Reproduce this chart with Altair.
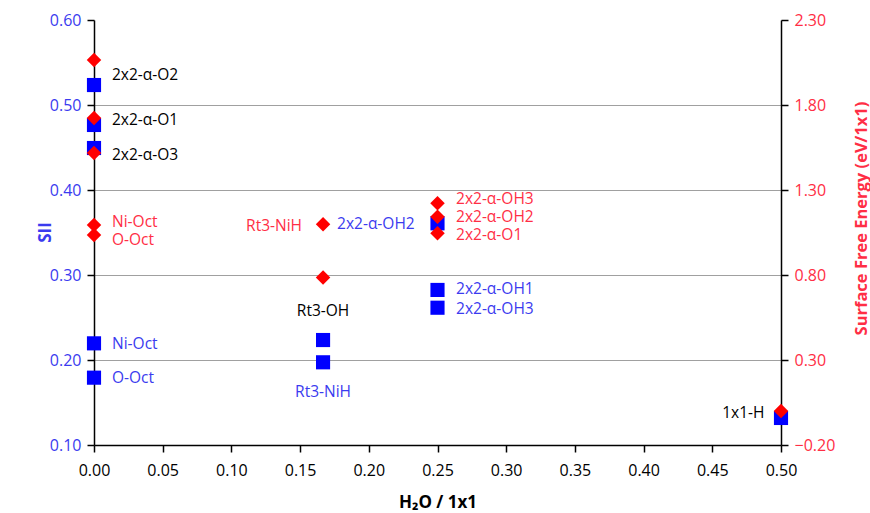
import altair as alt
import pandas as pd

# ---- data ----
x_sii = [0.0, 0.0, 0.0, 0.0, 0.0, 0.1667, 0.1667, 0.25, 0.25, 0.25, 0.5]
sii = [0.5235, 0.4765, 0.4494, 0.2196, 0.1792, 0.2235, 0.1973, 0.3608, 0.2824, 0.2615, 0.1318]

x_sfe = [0.0, 0.0, 0.0, 0.0, 0.0, 0.1667, 0.1667, 0.25, 0.25, 0.25, 0.5]
sfe = [2.065, 1.724, 1.518, 1.094, 1.035, 1.098, 0.786, 1.222, 1.143, 1.045, 0.0]

x_ticks = [0.0, 0.05, 0.1, 0.15, 0.2, 0.25, 0.3, 0.35, 0.4, 0.45, 0.5]
sii_ticks = [0.1, 0.2, 0.3, 0.4, 0.5, 0.6]
sfe_ticks = [-0.2, 0.3, 0.8, 1.3, 1.8, 2.3]

# annotation labels (anchor in data units)
blk_text = ["2x2-α-O2", "2x2-α-O1", "2x2-α-O3", "Rt3-OH", "1x1-H"]
blk_x = [0.0131, 0.0131, 0.0131, 0.1667, 0.488]
blk_v = [0.535, 0.4823, 0.4412, 0.2576, 0.1376]
blk_align = ["left", "left", "left", "center", "right"]

blu_text = ["2x2-α-OH2", "Ni-Oct", "O-Oct", "Rt3-NiH", "2x2-α-OH1", "2x2-α-OH3"]
blu_x = [0.1769, 0.0131, 0.0131, 0.1667, 0.2635, 0.2635]
blu_v = [0.3600, 0.2188, 0.1788, 0.1624, 0.2830, 0.2605]
blu_align = ["left", "left", "left", "center", "left", "left"]

red_text = ["Ni-Oct", "O-Oct", "Rt3-NiH", "2x2-α-OH3", "2x2-α-OH2", "2x2-α-O1"]
red_x = [0.0131, 0.0131, 0.1514, 0.2635, 0.2635, 0.2635]
red_v = [1.112, 1.006, 1.088, 1.245, 1.143, 1.038]
red_align = ["left", "left", "right", "left", "left", "left"]

BLUE = "#0000ff"
BLUE_TXT = "#3b3bef"
RED = "#ff0000"
RED_TXT = "#ff2e45"
FONT = "Open Sans"
LBL = 15.5

x_scale = alt.Scale(domain=[0, 0.5], nice=False, zero=False)
l_scale = alt.Scale(domain=[0.1, 0.6], nice=False, zero=False)
r_scale = alt.Scale(domain=[-0.2, 2.3], nice=False, zero=False)

x_axis = alt.Axis(
    values=x_ticks, format=".2f", title="H₂O / 1x1", grid=False, labelFlush=False,
    domainColor="black", tickColor="black", tickSize=7, domainWidth=1.5, tickWidth=1.5,
    labelFontSize=16, labelColor="black", labelFont=FONT, labelPadding=10,
    titleFont=FONT, titleFontSize=17, titleFontWeight="bold", titleColor="black",
    titleY=57, titleBaseline="middle",
)
l_axis = alt.Axis(
    values=sii_ticks, format=".2f", title="SII", grid=True, gridColor="#a0a0a0",
    gridOpacity={"condition": {"test": "datum.value > 0.55 || datum.value < 0.15", "value": 0}, "value": 1},
    domainColor="black", tickColor="black", tickSize=7, domainWidth=1.5, tickWidth=1.5,
    labelFontSize=16, labelColor=BLUE_TXT, labelFont=FONT, labelPadding=6,
    titleFont=FONT, titleFontSize=17, titleFontWeight="bold", titleColor=BLUE_TXT,
    titleX=-49, titleY=212, titleAlign="center", titleBaseline="middle",
)
r_axis = alt.Axis(
    values=sfe_ticks, format=".2f", title="Surface Free Energy (eV/1x1)", orient="right", grid=False,
    domainColor="black", tickColor="black", tickSize=7, domainWidth=1.5, tickWidth=1.5,
    labelFontSize=16, labelColor=RED_TXT, labelFont=FONT, labelPadding=6,
    titleFont=FONT, titleFontSize=16.5, titleFontWeight="bold", titleColor=RED_TXT,
    titleAngle=270, titleX=80, titleY=198, titleAlign="center", titleBaseline="middle",
)

df_sii = pd.DataFrame({"x": x_sii, "v": sii})
df_sfe = pd.DataFrame({"x": x_sfe, "v": sfe})


def text_layers(texts, xs, vs, aligns, color, yaxis, yscale):
    df = pd.DataFrame({"t": texts, "x": xs, "v": vs, "a": aligns})
    out = []
    for a in ["left", "center", "right"]:
        sub = df[df["a"] == a]
        if len(sub) == 0:
            continue
        out.append(
            alt.Chart(sub).mark_text(align=a, baseline="middle", font=FONT, fontSize=LBL, color=color)
            .encode(
                x=alt.X("x:Q", scale=x_scale, axis=x_axis),
                y=alt.Y("v:Q", scale=yscale, axis=yaxis),
                text="t:N",
            )
        )
    return out


blue_pts = alt.Chart(df_sii).mark_point(shape="square", filled=True, size=200, color=BLUE, opacity=1).encode(
    x=alt.X("x:Q", scale=x_scale, axis=x_axis),
    y=alt.Y("v:Q", scale=l_scale, axis=l_axis),
)
red_pts = alt.Chart(df_sfe).mark_point(shape="diamond", filled=True, size=210, color=RED, opacity=1).encode(
    x=alt.X("x:Q", scale=x_scale, axis=x_axis),
    y=alt.Y("v:Q", scale=r_scale, axis=r_axis),
)

left = alt.layer(
    blue_pts,
    *text_layers(blk_text, blk_x, blk_v, blk_align, "black", l_axis, l_scale),
    *text_layers(blu_text, blu_x, blu_v, blu_align, BLUE_TXT, l_axis, l_scale),
)
right = alt.layer(
    red_pts,
    *text_layers(red_text, red_x, red_v, red_align, RED_TXT, r_axis, r_scale),
)

chart = (
    alt.layer(left, right)
    .resolve_scale(y="independent")
    .properties(
        width=687, height=425,
        autosize=alt.AutoSizeParams(type="none"),
        padding={"left": 94, "top": 20, "right": 89, "bottom": 68},
        background="white",
    )
    .configure_view(stroke=None)
)

chart.save("out.html", embed_options={"renderer": "svg", "actions": False})
